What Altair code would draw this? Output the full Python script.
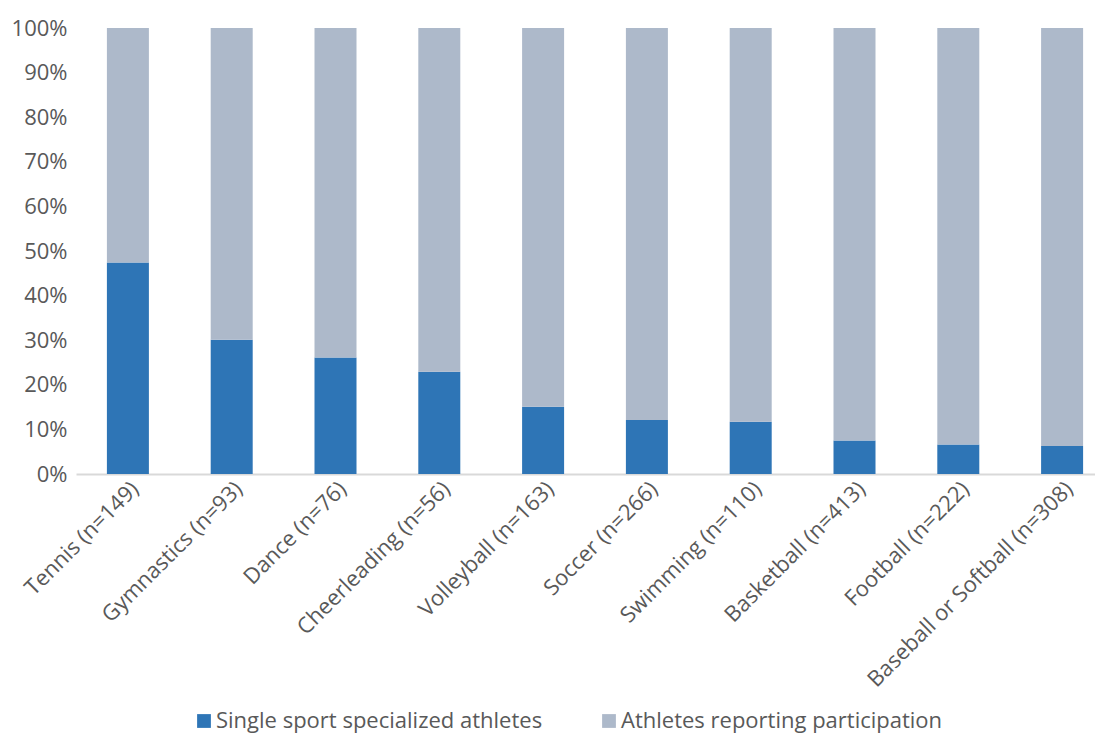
import altair as alt
import pandas as pd

sports = ["Tennis (n=149)", "Gymnastics (n=93)", "Dance (n=76)", "Cheerleading (n=56)",
          "Volleyball (n=163)", "Soccer (n=266)", "Swimming (n=110)", "Basketball (n=413)",
          "Football (n=222)", "Baseball or Softball (n=308)"]
single = [47.4, 30.1, 26.1, 22.9, 15.1, 12.1, 11.7, 7.5, 6.6, 6.3]
reporting = [52.6, 69.9, 73.9, 77.1, 84.9, 87.9, 88.3, 92.5, 93.4, 93.7]
series = ["Single sport specialized athletes", "Athletes reporting participation"]
colors = ["#2E75B6", "#ADB9CA"]

rows = []
for s, a, b in zip(sports, single, reporting):
    rows.append({"sport": s, "series": series[0], "value": a / 100, "ord": 0})
    rows.append({"sport": s, "series": series[1], "value": b / 100, "ord": 1})
df = pd.DataFrame(rows)

FONT = "Open Sans"
chart = alt.Chart(df).mark_bar(size=42).encode(
    x=alt.X("sport:N", sort=sports, title=None,
            scale=alt.Scale(paddingInner=0.59, paddingOuter=0.295, range=[0, 1038]),
            axis=alt.Axis(labelAngle=-45, labelFontSize=22, labelColor="#595959",
                          labelFont=FONT, ticks=False, domainColor="#D9D9D9",
                          domainWidth=2, labelPadding=4, labelLimit=400)),
    y=alt.Y("value:Q", stack="zero", title=None,
            scale=alt.Scale(domain=[0, 1], nice=False),
            axis=alt.Axis(format=".0%", values=[i / 10 for i in range(11)], grid=False,
                          domain=False, ticks=False, labelFontSize=22,
                          labelColor="#595959", labelFont=FONT, labelPadding=9)),
    color=alt.Color("series:N", scale=alt.Scale(domain=series, range=colors),
                    legend=alt.Legend(title=None, orient="none", direction="horizontal",
                                      legendX=117, legendY=682, symbolType="square",
                                      symbolSize=190, symbolStrokeWidth=0,
                                      labelFontSize=22, labelColor="#595959",
                                      labelFont=FONT, columnPadding=55, labelOffset=1,
                                      labelLimit=500, symbolOpacity=1)),
    order=alt.Order("ord:Q"),
).properties(
    width=1019, height=446,
    autosize=alt.AutoSizeParams(type="none"),
    padding={"left": 68, "top": 20, "right": 0, "bottom": 260},
).configure_view(stroke=None)

chart.save("out.html", embed_options={"renderer": "svg", "actions": False})
